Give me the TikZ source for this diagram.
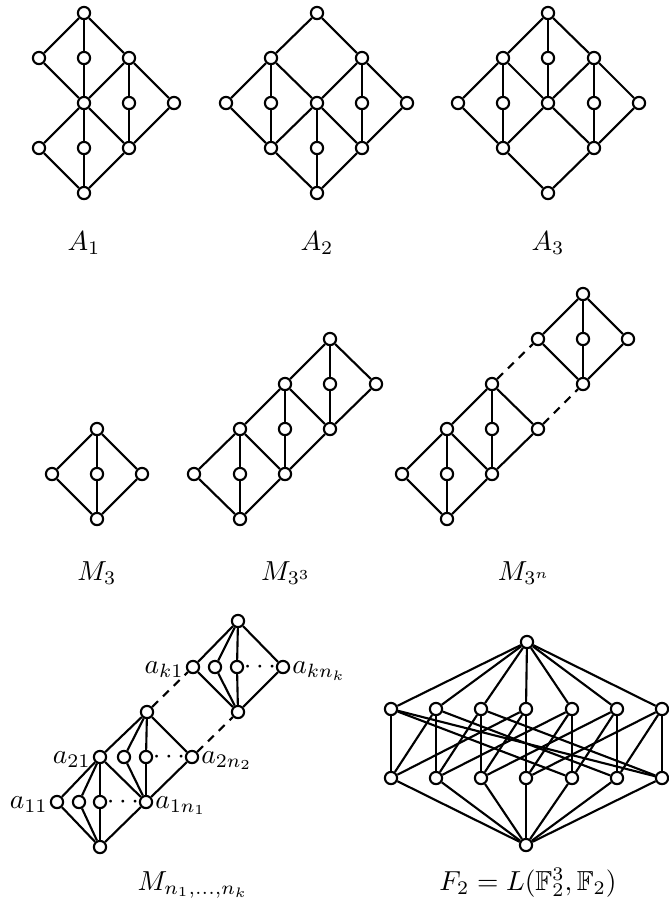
\documentclass[tikz,border=0pt]{standalone}
\usepackage{amssymb}
\tikzset{
  v/.style={circle,draw,fill=white,line width=0.77pt,minimum size=4.45pt,inner sep=0pt},
  e/.style={line width=0.77pt},
  dsh/.style={line width=0.77pt,dash pattern=on 3pt off 2.5pt},
  lab/.style={inner sep=0pt},
  dts/.style={inner sep=0pt,anchor=base}
}
\begin{document}
\begin{tikzpicture}[x=0.3636pt,y=-0.3636pt]
\useasboundingbox (0,0) rectangle (669,913);
% ---------- A1 ----------
\foreach \n/\x/\y in {p1/84/13,p2/39/58,p3/84/58,p4/129/58,p5/84/103,p6/129/103,p7/174/103,p8/39/148,p9/84/148,p10/129/148,p11/84/193}
  \node[v] (\n) at (\x,\y) {};
\foreach \a/\b in {p1/p2,p1/p3,p1/p4,p2/p5,p3/p5,p4/p5,p4/p6,p4/p7,p5/p8,p5/p9,p5/p10,p6/p10,p7/p10,p8/p11,p9/p11,p10/p11}
  \draw[e] (\a) -- (\b);
% ---------- A2 ----------
\foreach \n/\x/\y in {q1/317/13,q2/271/58,q3/362/58,q4/226/103,q5/271/103,q6/317/103,q7/362/103,q8/407/103,q9/271/148,q10/317/148,q11/362/148,q12/317/193}
  \node[v] (\n) at (\x,\y) {};
\foreach \a/\b in {q1/q2,q1/q3,q2/q4,q2/q5,q2/q6,q3/q6,q3/q7,q3/q8,q4/q9,q5/q9,q6/q9,q6/q10,q6/q11,q7/q11,q8/q11,q9/q12,q10/q12,q11/q12}
  \draw[e] (\a) -- (\b);
% ---------- A3 ----------
\foreach \n/\x/\y in {r1/548/13,r2/503/58,r3/548/58,r4/594/58,r5/458/103,r6/503/103,r7/548/103,r8/594/103,r9/639/103,r10/503/148,r11/594/148,r12/548/193}
  \node[v] (\n) at (\x,\y) {};
\foreach \a/\b in {r1/r2,r1/r3,r1/r4,r2/r5,r2/r6,r2/r7,r3/r7,r4/r7,r4/r8,r4/r9,r5/r10,r6/r10,r7/r10,r7/r11,r8/r11,r9/r11,r10/r12,r11/r12}
  \draw[e] (\a) -- (\b);
\node[dts] (lA1) at (84,250) {$A_1$};
\node[dts] (lA2) at (317,250) {$A_2$};
\node[dts] (lA3) at (548,250) {$A_3$};
% ---------- M3 ----------
\foreach \n/\x/\y in {m1/97/429,m2/52/474,m3/97/474,m4/142/474,m5/97/519}
  \node[v] (\n) at (\x,\y) {};
\foreach \a/\b in {m1/m2,m1/m3,m1/m4,m2/m5,m3/m5,m4/m5}
  \draw[e] (\a) -- (\b);
% ---------- M3^3 ----------
\foreach \n/\x/\y in {s1/240/519,s2/194/474,s3/240/474,s4/285/474,s5/240/429,s6/285/429,s7/330/429,s8/285/384,s9/330/384,s10/376/384,s11/330/339}
  \node[v] (\n) at (\x,\y) {};
\foreach \a/\b in {s1/s2,s1/s3,s1/s4,s2/s5,s3/s5,s4/s5,s4/s6,s4/s7,s5/s8,s6/s8,s7/s8,s7/s9,s7/s10,s8/s11,s9/s11,s10/s11}
  \draw[e] (\a) -- (\b);
% ---------- M3^n ----------
\foreach \n/\x/\y in {t1/447/519,t2/402/474,t3/447/474,t4/492/474,t5/447/429,t6/492/429,t7/538/429,t8/492/384,t9/583/384,t10/538/339,t11/583/339,t12/628/339,t13/583/294}
  \node[v] (\n) at (\x,\y) {};
\foreach \a/\b in {t1/t2,t1/t3,t1/t4,t2/t5,t3/t5,t4/t5,t4/t6,t4/t7,t5/t8,t6/t8,t7/t8,t9/t10,t9/t11,t9/t12,t10/t13,t11/t13,t12/t13}
  \draw[e] (\a) -- (\b);
\draw[dsh] (t8) -- (t10);
\draw[dsh] (t7) -- (t9);
\node[dts] (lM3) at (97,580) {$M_3$};
\node[dts] (lM33) at (286,580) {$M_{3^3}$};
\node[dts] (lM3n) at (524,580) {$M_{3^n}$};
% ---------- M_{n1..nk} ----------
\foreach \n/\x/\y in {u1/100/847,u2/57/802,u3/79/802,u4/100/802,u5/146/802,u6/100/757,u7/124/757,u8/146/757,u9/192/757,u10/147/712,w1/238/712,w2/193/667,w3/215/667,w4/237/667,w5/283/667,w6/238/621}
  \node[v] (\n) at (\x,\y) {};
\foreach \a/\b in {u1/u2,u1/u3,u1/u4,u1/u5,u2/u6,u3/u6,u4/u6,u5/u6,u5/u7,u5/u8,u5/u9,u6/u10,u7/u10,u8/u10,u9/u10,w1/w2,w1/w3,w1/w4,w1/w5,w6/w2,w6/w3,w6/w4,w6/w5}
  \draw[e] (\a) -- (\b);
\draw[dsh] (u10) -- (w2);
\draw[dsh] (u9) -- (w1);
\node[dts] (d1) at (123,808) {$\cdots$};
\node[dts] (d2) at (169,763) {$\cdots$};
\node[dts] (d3) at (260,673) {$\cdots$};
\node[lab,anchor=base east] (la11) at ([xshift=-0.6pt,yshift=-2.2pt]u2.west) {$a_{11}$};
\node[lab,anchor=base west] (la1n) at ([xshift=0.6pt,yshift=-2.2pt]u5.east) {$a_{1n_1}$};
\node[lab,anchor=base east] (la21) at ([xshift=-0.6pt,yshift=-2.2pt]u6.west) {$a_{21}$};
\node[lab,anchor=base west] (la2n) at ([xshift=0.6pt,yshift=-2.2pt]u9.east) {$a_{2n_2}$};
\node[lab,anchor=base east] (lak1) at ([xshift=-0.6pt,yshift=-2.2pt]w2.west) {$a_{k1}$};
\node[lab,anchor=base west] (lakn) at ([xshift=0.6pt,yshift=-2.2pt]w5.east) {$a_{kn_k}$};
\node[dts] (lMn) at (193,890) {$M_{n_1,\ldots,n_k}$};
% ---------- F2 ----------
\node[v] (ft) at (527,642) {};
\node[v] (fb) at (526,845) {};
\foreach \i/\x in {1/391,2/436,3/481,4/526,5/572,6/617,7/662} {
  \node[v] (U\i) at (\x,709) {};
  \node[v] (L\i) at (\x,778) {};
}
\foreach \i in {1,...,7} {
  \draw[e] (ft) -- (U\i);
  \draw[e] (fb) -- (L\i);
  \draw[e] (U\i) -- (L\i);
}
\foreach \a/\b in {1/5,1/7,2/6,2/1,3/7,3/2,4/1,4/3,5/2,5/4,6/3,6/5,7/4,7/6}
  \draw[e] (U\a) -- (L\b);
\node[dts] (lF2) at (528,890) {$F_2=L(\mathbb{F}_2^3,\mathbb{F}_2)$};
\end{tikzpicture}
\end{document}
